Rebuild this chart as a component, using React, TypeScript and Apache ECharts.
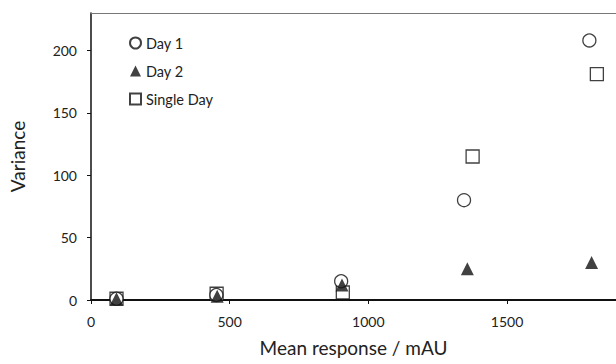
import React, { useEffect, useRef } from "react";
import * as echarts from "echarts";

const day1X = [92, 452, 902, 1345, 1797];
const day1Y = [1, 4, 15, 80, 208];
const day2X = [92, 455, 905, 1357, 1805];
const day2Y = [1, 3, 12, 25, 30];
const singleX = [92, 453, 908, 1376, 1824];
const singleY = [1, 5, 6, 115, 181];
const seriesNames = ["Day 1", "Day 2", "Single Day"];

const zip = (xs: number[], ys: number[]) => xs.map((x, i) => [x, ys[i]]);

export default function App() {
  const ref = useRef<HTMLDivElement>(null);
  useEffect(() => {
    if (!ref.current) return;
    const chart = echarts.init(ref.current, null, { renderer: "svg" });
    const font = "Lato, 'Open Sans', sans-serif";
    chart.setOption({
      animation: false,
      backgroundColor: "#fff",
      textStyle: { fontFamily: font },
      grid: { left: 91, right: 0, top: 13, bottom: 64, containLabel: false },
      legend: {
        orient: "vertical",
        left: 124,
        top: 30,
        itemWidth: 11,
        itemHeight: 11,
        itemGap: 12,
        textStyle: { fontSize: 14.5, color: "#222", fontFamily: font, lineHeight: 16 },
        data: seriesNames,
      },
      xAxis: [
        {
          type: "value",
          min: 0,
          max: 1893,
          interval: 500,
          name: "Mean response / mAU",
          nameLocation: "middle",
          nameGap: 38,
          nameTextStyle: { fontSize: 19, color: "#222", fontFamily: font },
          axisLine: { onZero: false, lineStyle: { color: "#111", width: 2 } },
          axisTick: { show: true, length: 4, lineStyle: { color: "#111" } },
          axisLabel: {
            fontSize: 14,
            color: "#222",
            margin: 14,
            showMaxLabel: false,
            formatter: (v: number) => String(v),
          },
          splitLine: { show: false },
        },
        {
          type: "value",
          position: "top",
          min: 0,
          max: 1893,
          axisLine: { show: true, onZero: false, lineStyle: { color: "#777", width: 1 } },
          axisTick: { show: false },
          axisLabel: { show: false },
          splitLine: { show: false },
        },
      ],
      yAxis: {
        type: "value",
        min: 0,
        max: 230,
        interval: 50,
        name: "Variance",
        nameLocation: "middle",
        nameGap: 64,
        nameTextStyle: { fontSize: 19, color: "#222", fontFamily: font },
        axisLine: { show: true, onZero: false, lineStyle: { color: "#111", width: 1.5 } },
        axisTick: { show: true, length: 4, lineStyle: { color: "#111" } },
        axisLabel: {
          fontSize: 14,
          color: "#222",
          margin: 14,
          showMaxLabel: false,
          formatter: (v: number) => String(v),
        },
        splitLine: { show: false },
      },
      series: [
        {
          name: seriesNames[0],
          type: "scatter",
          symbol: "circle",
          symbolSize: 13,
          itemStyle: { color: "#fff", borderColor: "#111", borderWidth: 1.3 },
          data: zip(day1X, day1Y),
          z: 3,
        },
        {
          name: seriesNames[1],
          type: "scatter",
          symbol: "triangle",
          symbolSize: 13,
          itemStyle: { color: "#111", borderColor: "#111", borderWidth: 0 },
          data: zip(day2X, day2Y),
          z: 4,
        },
        {
          name: seriesNames[2],
          type: "scatter",
          symbol: "rect",
          symbolSize: 13,
          itemStyle: { color: "#fff", borderColor: "#111", borderWidth: 1.3 },
          data: zip(singleX, singleY),
          z: 2,
        },
      ],
    });
    return () => chart.dispose();
  }, []);
  return <div ref={ref} style={{ width: 616, height: 364, position: "absolute", left: 0, top: 0 }} />;
}
